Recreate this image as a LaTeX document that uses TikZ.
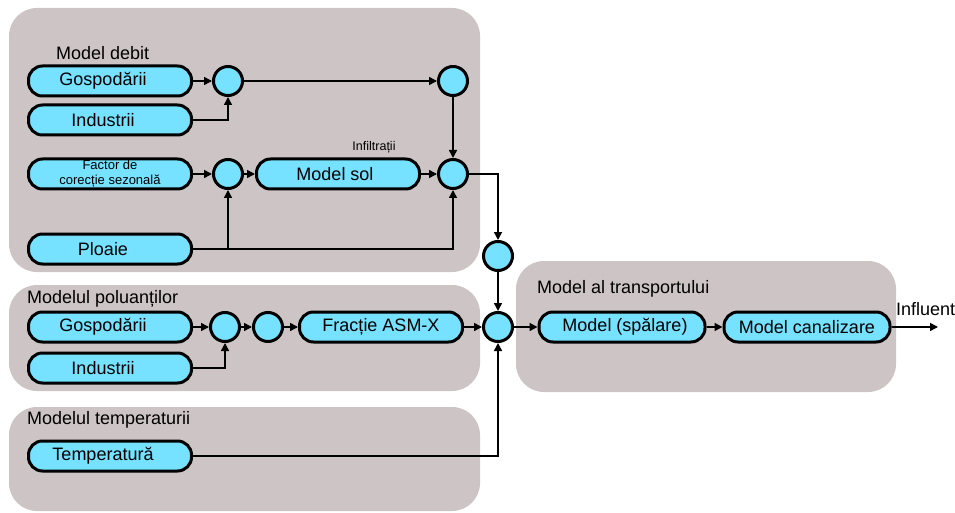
\documentclass[tikz,border=0pt]{standalone}
\usepackage{fontspec}
\setmainfont{Liberation Sans}
\usetikzlibrary{arrows.meta}
\definecolor{grp}{HTML}{CDC5C5}
\definecolor{cy}{HTML}{76E2FF}
\begin{document}
\begin{tikzpicture}[x=1pt,y=-1pt,
  grpbox/.style={fill=grp,draw=none,rounded corners=28pt},
  pill/.style={draw=black,line width=3pt,fill=cy,rounded corners=14pt,minimum width=163pt,minimum height=30pt,inner sep=0pt,font=\fontsize{18}{20}\selectfont},
  junc/.style={circle,draw=black,line width=3pt,fill=cy,minimum size=29pt,inner sep=0pt},
  lbl/.style={font=\fontsize{18}{20}\selectfont,inner sep=0pt},
  small/.style={font=\fontsize{12.5}{14}\selectfont,inner sep=0pt},
  conn/.style={line width=1.5pt,-{Triangle[length=8pt,width=8pt]}},
  plain/.style={line width=1.5pt}]
\useasboundingbox (0,0) rectangle (955,513);
% groups
\fill[grpbox] (9,8) rectangle (480,272);
\fill[grpbox] (9,285) rectangle (480,391);
\fill[grpbox] (9,407) rectangle (480,511);
\fill[grpbox] (516,261) rectangle (896,392);
% labels
\node[lbl,anchor=west] (tdebit) at (56,53) {Model debit};
\node[lbl,anchor=west] (tpol) at (27,299) {Modelul poluanților};
\node[lbl,anchor=west] (ttemp) at (27,420) {Modelul temperaturii};
\node[lbl,anchor=west] (ttr) at (537,289) {Model al transportului};
\node[small] (tinf) at (374,147) {Infiltrații};
% top group nodes
\node[pill] (g1) at (110,81) {\hspace*{-14pt}Gospodării};
\node[pill] (i1) at (110,120) {\hspace*{-14pt}Industrii};
\node[pill,font=\fontsize{13}{15}\selectfont,align=center] (f1) at (110,174) {Factor de\\corecție sezonală};
\node[pill] (p1) at (110,249) {\hspace*{-14pt}Ploaie};
\node[junc] (c1) at (228,81) {};
\node[junc] (c2) at (453,81) {};
\node[junc] (c3) at (228,174) {};
\node[pill] (ms) at (338,174) {\hspace*{-6pt}Model sol};
\node[junc] (c4) at (453,174) {};
\node[junc] (c5) at (498,256) {};
\node[junc] (c6) at (498,327) {};
% pollutants
\node[pill] (g2) at (110,327) {\hspace*{-14pt}Gospodării};
\node[pill] (i2) at (110,368) {\hspace*{-14pt}Industrii};
\node[junc] (ca) at (225,327) {};
\node[junc] (cb) at (268,327) {};
\node[pill] (fr) at (381,327) {Fracție ASM-X};
% temperature
\node[pill] (t1) at (110,456) {\hspace*{-14pt}Temperatură};
% transport
\node[pill,minimum width=166pt] (msp) at (622,327) {\hspace*{6pt}Model (spălare)};
\node[pill,minimum width=166pt] (mc) at (807,327) {Model canalizare};
\coordinate (out) at (938,327);
\node[lbl,anchor=base west] (tout) at (896,315) {Influent};
% connectors top
\draw[conn] (g1) -- (c1);
\draw[conn] (i1.east) -| (c1.south);
\draw[conn] (c1) -- (c2);
\draw[conn] (c2) -- (c4);
\draw[conn] (f1) -- (c3);
\draw[conn] (c3) -- (ms);
\draw[conn] (ms) -- (c4);
\draw[conn] (p1.east) -| (c4.south);
\draw[conn] (c3.south |- p1.east) -- (c3.south);
\draw[conn] (c4.east) -| (c5.north);
\draw[conn] (c5) -- (c6);
% pollutants
\draw[conn] (g2) -- (ca);
\draw[conn] (i2.east) -| (ca.south);
\draw[conn] (ca) -- (cb);
\draw[conn] (cb) -- (fr);
\draw[conn] (fr) -- (c6);
\draw[conn] (t1.east) -| (c6.south);
% transport
\draw[conn] (c6) -- (msp);
\draw[conn] (msp) -- (mc);
\draw[conn] (mc) -- (out);
\end{tikzpicture}
\end{document}
